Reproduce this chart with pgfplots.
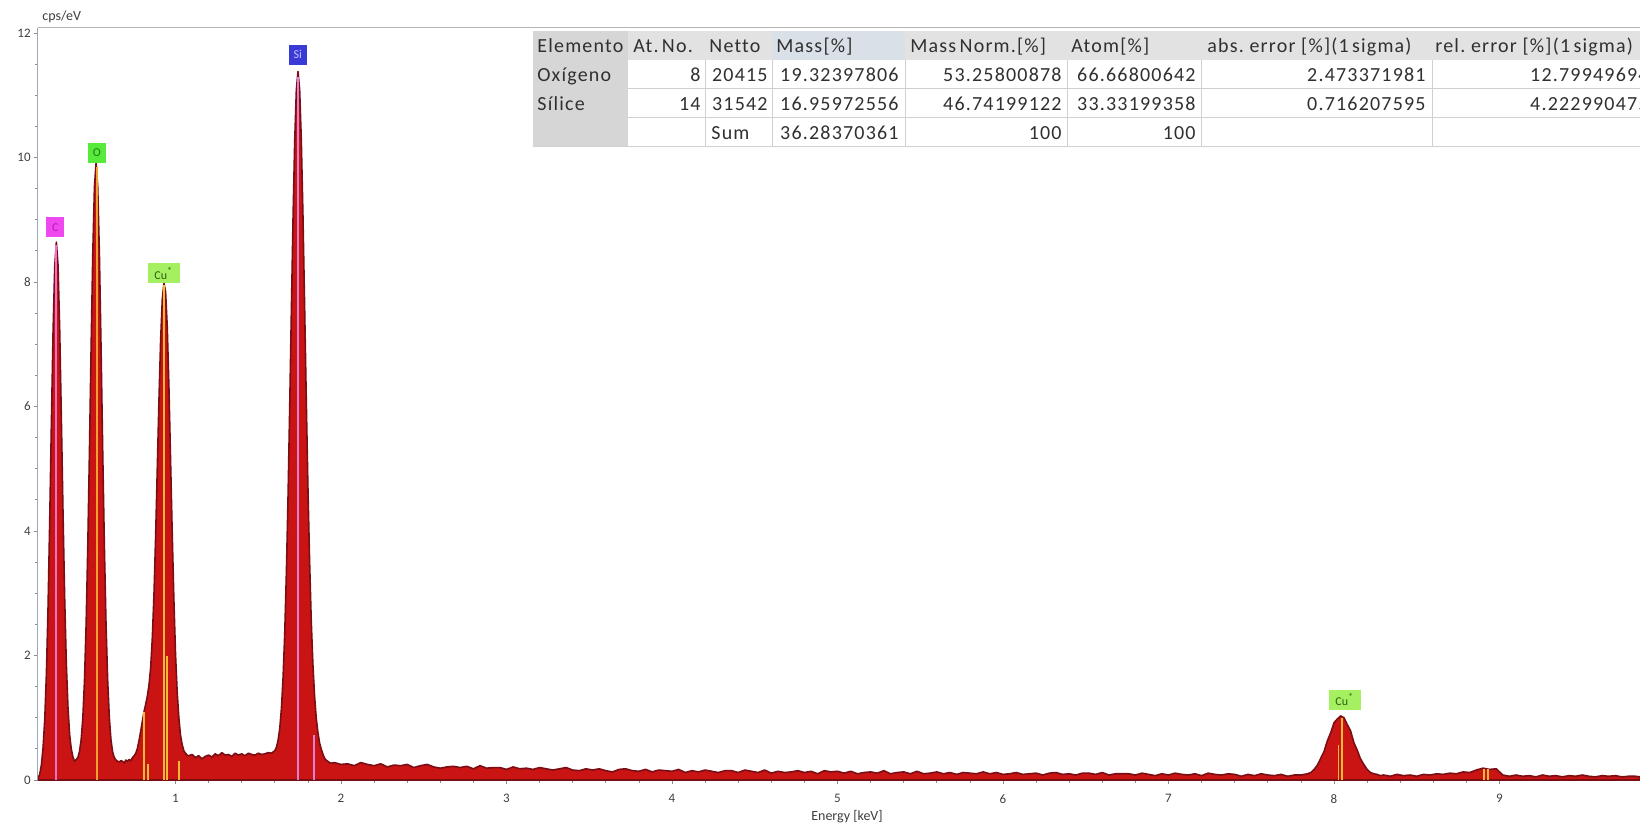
\documentclass[border=0pt]{standalone}
\usepackage{pgfplots}
\pgfplotsset{compat=1.18}
\usepackage{fontspec}
\setmainfont{Carlito}
\newfontfamily\tabfont[LetterSpace=6, Ligatures=NoCommon]{Carlito}

\definecolor{spec}{HTML}{CA1414}
\definecolor{specedge}{HTML}{7A0E14}
\definecolor{axblue}{HTML}{9AA8B8}
\definecolor{axgray}{HTML}{B4B4B4}
\definecolor{tickgray}{HTML}{8C8C8C}
\definecolor{labgray}{HTML}{404040}
\definecolor{cline}{HTML}{F070C8}
\definecolor{oline}{HTML}{F0A030}
\definecolor{culine}{HTML}{F2B838}
\definecolor{siline}{HTML}{E080D0}
\definecolor{cbox}{HTML}{EE48EE}
\definecolor{ctext}{HTML}{B818B8}
\definecolor{obox}{HTML}{58EA3A}
\definecolor{otext}{HTML}{1E7A12}
\definecolor{cubox}{HTML}{A4F060}
\definecolor{cutext}{HTML}{2E5E10}
\definecolor{sibox}{HTML}{3A3AD6}
\definecolor{sitext}{HTML}{C8C8FF}
\definecolor{hdrbg}{HTML}{E2E2E2}
\definecolor{colbg}{HTML}{D6D6D6}
\definecolor{selbg}{HTML}{DAE0E8}
\definecolor{grid}{HTML}{D0D0D0}
\definecolor{tabtext}{HTML}{303030}

\begin{document}
\begin{tikzpicture}
\useasboundingbox (0,0) rectangle (820pt,-412pt);
\clip (0,0) rectangle (820pt,-412pt);
\fill[white] (0,0) rectangle (820pt,-412pt);

\begin{axis}[
  at={(19pt,-390pt)}, anchor=south west,
  scale only axis, width=801pt, height=376pt,
  xmin=0.169, xmax=9.849, ymin=0, ymax=12.08,
  axis x line*=bottom, axis y line*=left,
  x axis line style={draw=axgray, -, line width=0.5pt},
  y axis line style={draw=axblue, -, line width=0.5pt},
  xtick={1,...,9}, ytick={0,2,...,12},
  minor x tick num=4, minor y tick num=3,
  tick align=outside, major tick length=2pt, minor tick length=1.4pt,
  every tick/.style={draw=tickgray, line width=0.4pt},
  tick label style={font=\fontsize{6.5}{7}\selectfont, text=labgray},
  /pgf/number format/assume math mode=true,
  yticklabel style={anchor=east, inner sep=0pt, xshift=-1.5pt},
  xticklabel style={anchor=north, inner sep=0pt, yshift=-5pt},
]
% measured spectrum (counts per eV against energy)
\addplot[fill=spec, draw=specedge, line width=0.8pt, line join=round] coordinates {
(0.17,0.03) (0.18,0.10) (0.19,0.25) (0.20,0.53) (0.21,0.98) (0.22,1.72) (0.23,2.80) (0.24,4.19)
(0.25,5.74) (0.26,7.19) (0.27,8.24) (0.28,8.64) (0.29,8.27) (0.30,7.25) (0.31,5.83) (0.32,4.31)
(0.33,2.94) (0.34,1.88) (0.35,1.17) (0.36,0.73) (0.37,0.50) (0.38,0.37) (0.39,0.30)
(0.40,0.33) (0.41,0.36) (0.42,0.46) (0.43,0.65) (0.44,1.00) (0.45,1.60) (0.46,2.51) (0.47,3.77)
(0.48,5.29) (0.49,6.95) (0.50,8.45) (0.51,9.52) (0.52,9.91) (0.53,9.52) (0.54,8.45) (0.55,6.94)
(0.56,5.28) (0.57,3.76) (0.58,2.50) (0.59,1.60) (0.60,1.00) (0.61,0.64) (0.62,0.45) (0.63,0.36)
(0.64,0.32) (0.65,0.30) (0.66,0.29) (0.67,0.31) (0.68,0.30) (0.69,0.27) (0.70,0.32) (0.71,0.30)
(0.72,0.33) (0.73,0.31) (0.74,0.36) (0.75,0.39) (0.76,0.43) (0.77,0.51) (0.78,0.64) (0.79,0.79)
(0.80,0.95) (0.81,1.10) (0.82,1.22) (0.83,1.35) (0.84,1.53) (0.85,1.81) (0.86,2.29) (0.87,2.99)
(0.88,3.93) (0.89,5.02) (0.90,6.11) (0.91,7.06) (0.92,7.72) (0.93,7.98) (0.94,7.84) (0.95,7.28)
(0.96,6.32) (0.97,5.14) (0.98,3.96) (0.99,2.90) (1.00,2.02) (1.01,1.41) (1.02,1.00) (1.03,0.72)
(1.04,0.57) (1.05,0.47) (1.06,0.43) (1.07,0.40) (1.08,0.39)
(1.10,0.41) (1.12,0.36) (1.14,0.39) (1.16,0.34) (1.18,0.38) (1.20,0.40) (1.22,0.37) (1.24,0.42)
(1.26,0.39) (1.28,0.44) (1.30,0.40) (1.32,0.41) (1.34,0.38) (1.36,0.43) (1.38,0.40) (1.40,0.42)
(1.42,0.39) (1.44,0.43) (1.46,0.41) (1.48,0.40) (1.50,0.43) (1.52,0.41) (1.54,0.42) (1.56,0.44)
(1.58,0.43) (1.59,0.45) (1.60,0.47) (1.61,0.53) (1.62,0.64) (1.63,0.83) (1.64,1.15) (1.65,1.65)
(1.66,2.36) (1.67,3.34) (1.68,4.56) (1.69,6.00) (1.70,7.53) (1.71,9.01) (1.72,10.25) (1.73,11.08)
(1.74,11.38) (1.75,11.09) (1.76,10.28) (1.77,9.06) (1.78,7.61) (1.79,6.11) (1.80,4.70) (1.81,3.52)
(1.82,2.56) (1.83,1.86) (1.84,1.35) (1.85,1.00) (1.86,0.77) (1.87,0.60) (1.88,0.50) (1.89,0.42)
(1.90,0.35) (1.91,0.32) (1.92,0.30) (1.93,0.28) (1.94,0.27)
(1.96,0.28) (2.00,0.25) (2.04,0.26) (2.08,0.23) (2.12,0.28) (2.16,0.25) (2.20,0.23) (2.24,0.26)
(2.28,0.21) (2.32,0.24) (2.36,0.23) (2.40,0.25) (2.44,0.20) (2.48,0.23) (2.52,0.25) (2.56,0.21)
(2.60,0.19) (2.64,0.21) (2.68,0.22) (2.72,0.20) (2.76,0.22) (2.80,0.18) (2.84,0.23) (2.88,0.19)
(2.92,0.20) (2.96,0.20) (3.00,0.17) (3.04,0.21) (3.08,0.18) (3.12,0.19) (3.16,0.17) (3.20,0.20)
(3.24,0.18) (3.28,0.16) (3.32,0.18) (3.36,0.20) (3.40,0.16) (3.44,0.15) (3.48,0.18) (3.52,0.16)
(3.56,0.18) (3.60,0.15) (3.64,0.13) (3.68,0.17) (3.72,0.18) (3.76,0.15) (3.80,0.14) (3.84,0.17)
(3.88,0.13) (3.92,0.16) (3.96,0.15) (4.00,0.14) (4.04,0.17) (4.08,0.12) (4.12,0.15) (4.16,0.13)
(4.20,0.16) (4.24,0.14) (4.28,0.12) (4.32,0.15) (4.36,0.15) (4.40,0.12) (4.44,0.16) (4.48,0.14)
(4.52,0.12) (4.56,0.16) (4.60,0.11) (4.64,0.14) (4.68,0.12) (4.72,0.13) (4.76,0.15) (4.80,0.12)
(4.84,0.14) (4.88,0.10) (4.92,0.15) (4.96,0.13) (5.00,0.14) (5.04,0.11) (5.08,0.14) (5.12,0.10)
(5.16,0.12) (5.20,0.13) (5.24,0.11) (5.28,0.15) (5.32,0.10) (5.36,0.12) (5.40,0.13) (5.44,0.10)
(5.48,0.14) (5.52,0.10) (5.56,0.11) (5.60,0.13) (5.64,0.10) (5.68,0.12) (5.72,0.09) (5.76,0.12)
(5.80,0.11) (5.84,0.10) (5.88,0.13) (5.92,0.10) (5.96,0.12) (6.00,0.09) (6.04,0.10) (6.08,0.12)
(6.12,0.09) (6.16,0.10) (6.20,0.11) (6.24,0.08) (6.28,0.11) (6.32,0.12) (6.36,0.09) (6.40,0.10)
(6.44,0.08) (6.48,0.11) (6.52,0.11) (6.56,0.09) (6.60,0.12) (6.64,0.08) (6.68,0.10) (6.72,0.10)
(6.76,0.10) (6.80,0.08) (6.84,0.11) (6.88,0.09) (6.92,0.07) (6.96,0.10) (7.00,0.08) (7.04,0.11)
(7.08,0.09) (7.12,0.08) (7.16,0.10) (7.20,0.07) (7.24,0.11) (7.28,0.09) (7.32,0.08) (7.36,0.10)
(7.40,0.09) (7.44,0.06) (7.48,0.09) (7.52,0.07) (7.56,0.10) (7.60,0.08) (7.64,0.07) (7.68,0.09)
(7.72,0.06) (7.76,0.08)
(7.80,0.08) (7.82,0.09) (7.84,0.10) (7.86,0.12) (7.88,0.17) (7.90,0.24) (7.92,0.35) (7.94,0.46)
(7.96,0.63) (7.98,0.76) (8.00,0.92) (8.02,0.98) (8.04,1.03) (8.06,1.00) (8.08,0.89) (8.10,0.79)
(8.12,0.60) (8.14,0.48) (8.16,0.34) (8.18,0.25) (8.20,0.17) (8.22,0.12) (8.24,0.10) (8.26,0.09)
(8.28,0.07) (8.30,0.08)
(8.34,0.06) (8.38,0.09) (8.42,0.07) (8.46,0.08) (8.50,0.06) (8.54,0.09) (8.58,0.08) (8.62,0.10)
(8.66,0.09) (8.70,0.11) (8.74,0.10) (8.78,0.13) (8.82,0.12) (8.86,0.16) (8.90,0.19) (8.94,0.17)
(8.98,0.18) (9.02,0.08) (9.06,0.06) (9.10,0.08) (9.14,0.06) (9.18,0.07) (9.22,0.05) (9.26,0.08)
(9.30,0.06) (9.34,0.07) (9.38,0.05) (9.42,0.07) (9.46,0.06) (9.50,0.08) (9.54,0.06) (9.58,0.05)
(9.62,0.07) (9.66,0.06) (9.70,0.07) (9.74,0.05) (9.78,0.06) (9.82,0.06) (9.85,0.05)
} \closedcycle;

% element line markers
\addplot[ycomb, draw=cline, line width=0.9pt] coordinates {(0.277,8.60)};
\addplot[ycomb, draw=oline, line width=0.9pt] coordinates {(0.525,9.85)};
\addplot[ycomb, draw=culine, line width=0.9pt] coordinates
  {(0.811,1.10) (0.832,0.25) (0.930,7.95) (0.950,2.00) (1.022,0.30)
   (8.027,0.57) (8.048,1.00) (8.905,0.17) (8.930,0.17)};
\addplot[ycomb, draw=siline, line width=0.9pt] coordinates {(1.740,11.30) (1.836,0.72)};

% peak labels
\tikzset{lab/.style={inner sep=0pt, minimum height=10pt, minimum width=9pt,
  font=\fontsize{6}{7}\selectfont}}
\node[lab, fill=cbox, text=ctext] at (axis cs:0.274,8.88) {C};
\node[lab, fill=obox, text=otext] at (axis cs:0.524,10.07) {O};
\node[lab, fill=cubox, text=cutext, minimum width=16pt] at (axis cs:0.929,8.14) {Cu\textsuperscript{*}};
\node[lab, fill=sibox, text=sitext] at (axis cs:1.739,11.65) {Si};
\node[lab, fill=cubox, text=cutext, minimum width=16pt] at (axis cs:8.065,1.29) {Cu\textsuperscript{*}};
\end{axis}

% frame line along the top of the plot
\draw[axgray, line width=0.5pt] (19pt,-14pt) -- (820pt,-14pt);

% axis titles
\begin{scope}[x=0.5pt, y=-0.5pt]
\node[anchor=base west, inner sep=0pt, font=\fontsize{7}{8}\selectfont, text=labgray] at (42,21) {cps/eV};
\node[anchor=base, inner sep=0pt, font=\fontsize{7}{8}\selectfont, text=labgray] at (847,820) {Energy [keV]};

% quantification table
\fill[white] (533,31) rectangle (1660,147);
\fill[hdrbg] (533,31) rectangle (1660,60);
\fill[selbg] (772,31) rectangle (905,60);
\fill[colbg] (533,31) rectangle (628,147);
\foreach \yy in {89,118,147} \draw[grid, line width=0.5pt] (628,\yy) -- (1660,\yy);
\foreach \xx in {705,772,905,1067,1201,1432} \draw[grid, line width=0.5pt] (\xx,60) -- (\xx,147);
\draw[grid, line width=0.5pt] (533,147) -- (628,147);

\tikzset{tl/.style={anchor=base west, inner sep=0pt, font=\tabfont\fontsize{10}{12}\selectfont, text=tabtext},
         tr/.style={anchor=base east, inner sep=0pt, font=\tabfont\fontsize{10}{12}\selectfont, text=tabtext}}
% header
\node[tl] at (537,53) {Elemento};
\node[tl] at (633,53) {At.\,No.};
\node[tl] at (709,53) {Netto};
\node[tl] at (776,53) {Mass[\%]};
\node[tl] at (910,53) {Mass\,Norm.[\%]};
\node[tl] at (1071,53) {Atom[\%]};
\node[tl] at (1207,53) {abs.\ error [\%](1\,sigma)};
\node[tl] at (1435,53) {rel.\ error [\%](1\,sigma)};
% oxygen
\node[tl] at (537,82) {Oxígeno};
\node[tr] at (701,82) {8};
\node[tr] at (768,82) {20415};
\node[tr] at (899,82) {19.32397806};
\node[tr] at (1062,82) {53.25800878};
\node[tr] at (1196,82) {66.66800642};
\node[tr] at (1426,82) {2.473371981};
\node[tr] at (1649,82) {12.79949694};
% silicon
\node[tl] at (537,111) {Sílice};
\node[tr] at (701,111) {14};
\node[tr] at (768,111) {31542};
\node[tr] at (899,111) {16.95972556};
\node[tr] at (1062,111) {46.74199122};
\node[tr] at (1196,111) {33.33199358};
\node[tr] at (1426,111) {0.716207595};
\node[tr] at (1649,111) {4.222990475};
% totals
\node[tl] at (711,140) {Sum};
\node[tr] at (899,140) {36.28370361};
\node[tr] at (1062,140) {100};
\node[tr] at (1196,140) {100};
\end{scope}
\end{tikzpicture}
\end{document}
